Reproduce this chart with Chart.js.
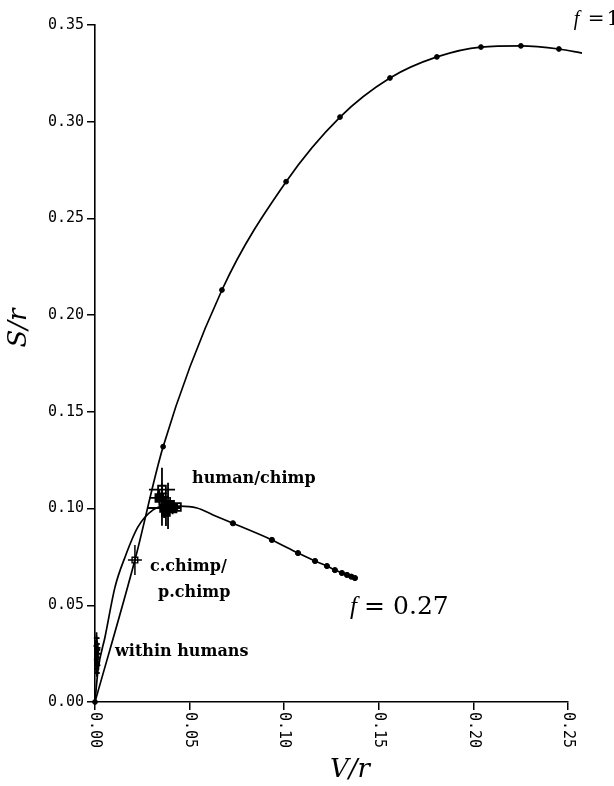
<!DOCTYPE html>
<html>
<head>
<meta charset="utf-8">
<script src="https://cdn.jsdelivr.net/npm/chart.js@4.4.1/dist/chart.umd.min.js"></script>
<style>
  html, body { margin: 0; padding: 0; background: #fff; }
  #wrap { width: 614px; height: 786px; }
</style>
</head>
<body>
<div id="wrap"><canvas id="chart" width="614" height="786"></canvas></div>
<script>
// S/r proti V/r — krivulji f = 1 in f = 0.27 ter ocene

const xTickValues = [0, 0.05, 0.10, 0.15, 0.20, 0.25];
const yTickValues = [0, 0.05, 0.10, 0.15, 0.20, 0.25, 0.30, 0.35];

// krivulja f = 1 (oblika črte)
const f1CurveX = [0, 0.0211, 0.036, 0.0671, 0.101, 0.1295, 0.1559, 0.1807, 0.204, 0.2251, 0.2452, 0.2574];
const f1CurveY = [0, 0.0734, 0.132, 0.213, 0.269, 0.3024, 0.3226, 0.3335, 0.3386, 0.3392, 0.3376, 0.3355];
// pike na krivulji f = 1
const f1DotX = [0, 0.036, 0.0671, 0.101, 0.1295, 0.1559, 0.1807, 0.204, 0.2251, 0.2452];
const f1DotY = [0, 0.132, 0.213, 0.269, 0.3024, 0.3226, 0.3335, 0.3386, 0.3392, 0.3376];

// krivulja f = 0.27
const f027CurveX = [0, 0.0016, 0.0053, 0.0106, 0.0159, 0.0227, 0.0307, 0.037, 0.0449, 0.0539, 0.0624, 0.0729, 0.0935, 0.1073, 0.1163, 0.1226, 0.1268, 0.1305, 0.1332, 0.1374];
const f027CurveY = [0, 0.0165, 0.0336, 0.0595, 0.075, 0.0905, 0.0993, 0.1013, 0.1013, 0.1003, 0.0967, 0.0924, 0.0838, 0.0770, 0.0729, 0.0703, 0.0682, 0.0667, 0.0657, 0.0641];
const f027DotX = [0.0729, 0.0935, 0.1073, 0.1163, 0.1226, 0.1268, 0.1305, 0.1332, 0.1355, 0.1374];
const f027DotY = [0.0924, 0.0838, 0.0770, 0.0729, 0.0703, 0.0682, 0.0667, 0.0657, 0.0648, 0.0641];

// human/chimp ocene z napakami
const hcX    = [0.0354, 0.0386, 0.0354, 0.0340, 0.0365, 0.0397, 0.0433, 0.0375, 0.0410];
const hcY    = [0.1061, 0.1014, 0.1098, 0.1055, 0.1003, 0.1019, 0.1008, 0.0982, 0.1000];
const hcXErr = [0.0037, 0.0032, 0.0069, 0.0053, 0.0085, 0.0042, 0.0016, 0.0026, 0.0030];
const hcYErr = [0.0150, 0.0119, 0.0031, 0.0041, 0.0052, 0.0041, 0.0016, 0.0072, 0.0030];
const hcFilled = [false, true, false, true, true, true, false, true, true];

// c.chimp / p.chimp
const ccX = [0.0211];
const ccY = [0.0734];
const ccXErr = [0.0037];
const ccYErr = [0.0078];

// znotraj ljudi
const whX    = [0.0008, 0.0010, 0.0012, 0.0006, 0.0015, 0.0009, 0.0011, 0.0004, 0.0013, 0.0007, 0.0010, 0.0005, 0.0012, 0.0008];
const whY    = [0.0330, 0.0300, 0.0280, 0.0260, 0.0250, 0.0230, 0.0210, 0.0290, 0.0190, 0.0170, 0.0150, 0.0220, 0.0270, 0.0200];
const whXErr = [0.0014, 0.0012, 0.0016, 0.0010, 0.0012, 0.0014, 0.0011, 0.0012, 0.0013, 0.0010, 0.0012, 0.0011, 0.0015, 0.0013];
const whYErr = [0.0030, 0.0025, 0.0030, 0.0020, 0.0030, 0.0025, 0.0020, 0.0030, 0.0025, 0.0020, 0.0020, 0.0025, 0.0025, 0.0030];

const TICK_FONT = '15px "DejaVu Sans Mono"';

function pts(xs, ys) {
  return xs.map((x, i) => ({ x, y: ys[i] }));
}

// napake (križci) čez točke
const errorBarsPlugin = {
  id: 'errorBars',
  afterDatasetsDraw(chart) {
    const { ctx, scales } = chart;
    const groups = [
      [hcX, hcY, hcXErr, hcYErr, 1.8],
      [ccX, ccY, ccXErr, ccYErr, 1.5],
      [whX, whY, whXErr, whYErr, 1.8],
    ];
    ctx.save();
    ctx.strokeStyle = '#000';
    for (const [xs, ys, xe, ye, lw] of groups) {
      ctx.lineWidth = lw;
      xs.forEach((x, i) => {
        const y = ys[i];
        const x0 = scales.x.getPixelForValue(x - xe[i]);
        const x1 = scales.x.getPixelForValue(x + xe[i]);
        const y0 = scales.y.getPixelForValue(y - ye[i]);
        const y1 = scales.y.getPixelForValue(y + ye[i]);
        const px = scales.x.getPixelForValue(x);
        const py = scales.y.getPixelForValue(y);
        ctx.beginPath();
        ctx.moveTo(x0, py); ctx.lineTo(x1, py);
        ctx.moveTo(px, y0); ctx.lineTo(px, y1);
        ctx.stroke();
      });
    }
    ctx.restore();
  },
};

// oznake osi x (navpično), naslovi osi in napisi
const textPlugin = {
  id: 'texts',
  afterDraw(chart) {
    const { ctx, scales } = chart;
    const xs = scales.x, ys = scales.y;
    ctx.save();
    ctx.fillStyle = '#000';

    // x oznake zasukane za +90°
    ctx.font = TICK_FONT;
    ctx.textAlign = 'left';
    ctx.textBaseline = 'middle';
    for (const v of xTickValues) {
      ctx.save();
      ctx.translate(xs.getPixelForValue(v), xs.top + 10);
      ctx.rotate(Math.PI / 2);
      ctx.fillText(v.toFixed(2), 0, 0);
      ctx.restore();
    }

    // naslovi osi
    ctx.font = 'italic 26px "DejaVu Serif"';
    ctx.textAlign = 'center';
    ctx.fillText('V/r', 350, 770);
    ctx.save();
    ctx.translate(19, 328);
    ctx.rotate(-Math.PI / 2);
    ctx.fillText('S/r', 0, 0);
    ctx.restore();

    // napisi skupin
    ctx.font = 'bold 16px "DejaVu Serif"';
    ctx.textAlign = 'left';
    const notes = [
      ['human/chimp', 0.0513, 0.1153],
      ['c.chimp/', 0.0291, 0.0698],
      ['p.chimp', 0.0333, 0.0564],
      ['within humans', 0.0106, 0.0259],
    ];
    for (const [t, x, y] of notes) {
      ctx.fillText(t, xs.getPixelForValue(x), ys.getPixelForValue(y));
    }

    // f = 1 in f = 0.27
    const drawF = (x, y, rest, size, eqGap, restGap) => {
      const px = xs.getPixelForValue(x), py = ys.getPixelForValue(y);
      ctx.font = `italic ${size}px "Liberation Serif"`;
      ctx.fillText('f', px, py);
      ctx.font = `${size}px "DejaVu Serif"`;
      ctx.fillText('=', px + eqGap, py);
      ctx.fillText(rest, px + restGap, py);
    };
    drawF(0.2530, 0.3526, '1', 20, 14, 33);
    drawF(0.1348, 0.0491, '0.27', 25, 14, 43);

    ctx.restore();
  },
};

new Chart(document.getElementById('chart'), {
  type: 'scatter',
  plugins: [errorBarsPlugin, textPlugin],
  data: {
    datasets: [
      {
        type: 'line',
        data: pts(f1CurveX, f1CurveY),
        showLine: true,
        borderColor: '#000',
        borderWidth: 1.7,
        pointRadius: 0,
        cubicInterpolationMode: 'monotone',
        clip: false,
      },
      {
        data: pts(f1DotX, f1DotY),
        pointRadius: 2.4,
        backgroundColor: '#000',
        borderColor: '#000',
        clip: false,
      },
      {
        type: 'line',
        data: pts(f027CurveX, f027CurveY),
        showLine: true,
        borderColor: '#000',
        borderWidth: 1.7,
        pointRadius: 0,
        cubicInterpolationMode: 'monotone',
      },
      {
        data: pts(f027DotX, f027DotY),
        pointRadius: 2.6,
        backgroundColor: '#000',
        borderColor: '#000',
      },
      {
        data: pts(hcX, hcY),
        pointStyle: 'rect',
        pointRadius: 5.5,
        borderWidth: 1.8,
        borderColor: '#000',
        backgroundColor: hcFilled.map((f) => (f ? '#000' : '#fff')),
      },
      {
        data: pts(ccX, ccY),
        pointStyle: 'rect',
        pointRadius: 4,
        borderWidth: 1.4,
        borderColor: '#000',
        backgroundColor: '#fff',
      },
      {
        data: pts(whX, whY),
        pointStyle: 'cross',
        pointRadius: 3,
        borderWidth: 1.5,
        borderColor: '#000',
      },
    ],
  },
  options: {
    responsive: false,
    animation: false,
    devicePixelRatio: 1,
    layout: { padding: { top: 25, right: 46, left: 0, bottom: 0 } },
    plugins: { legend: { display: false }, tooltip: { enabled: false } },
    scales: {
      x: {
        type: 'linear',
        min: 0,
        max: 0.25,
        afterBuildTicks: (s) => { s.ticks = xTickValues.map((v) => ({ value: v })); },
        afterFit: (s) => { s.height = 84; },
        ticks: { display: false },
        grid: { drawOnChartArea: false, drawTicks: true, tickLength: 8, color: '#000', lineWidth: 1.5 },
        border: { display: true, color: '#000', width: 1.6 },
      },
      y: {
        type: 'linear',
        min: 0,
        max: 0.35,
        afterBuildTicks: (s) => { s.ticks = yTickValues.map((v) => ({ value: v })); },
        afterFit: (s) => { s.width = 95; },
        ticks: {
          color: '#000',
          font: { family: 'DejaVu Sans Mono', size: 15 },
          padding: 3,
          callback: (v) => Number(v).toFixed(2),
        },
        grid: { drawOnChartArea: false, drawTicks: true, tickLength: 8, color: '#000', lineWidth: 1.5 },
        border: { display: true, color: '#000', width: 1.6 },
      },
    },
  },
});
</script>
</body>
</html>
